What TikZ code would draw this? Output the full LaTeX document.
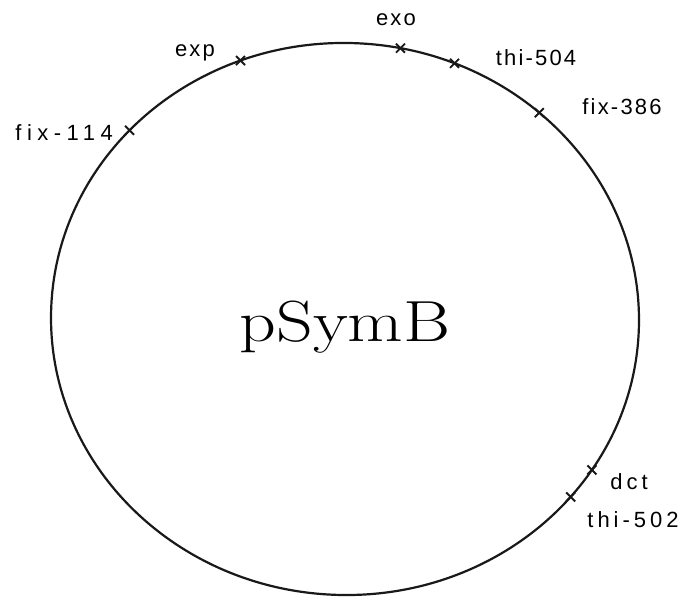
\documentclass[tikz,border=0pt]{standalone}
\usepackage{fontspec}
\newfontfamily\sitefont[LetterSpace=10]{Liberation Sans}
\newfontfamily\sitefontmid[LetterSpace=18]{Liberation Sans}
\newfontfamily\sitefontwide[LetterSpace=25]{Liberation Sans}
\begin{document}
\begin{tikzpicture}[x=1pt,y=1pt,
  replicon/.style={line width=2.2pt, black!90},
  sitetick/.style={line width=1.9pt, black!90},
  site/.style={font=\fontsize{22}{22}\selectfont\sitefont, inner sep=0pt, text=black},
  sitemid/.style={font=\fontsize{22}{22}\selectfont\sitefontmid, inner sep=0pt, text=black},
  sitewide/.style={font=\fontsize{22}{22}\selectfont\sitefontwide, inner sep=0pt, text=black},
  title/.style={font=\fontsize{58}{58}\selectfont, inner sep=0pt, xscale=1.24, transform shape}]
\useasboundingbox (0,0) rectangle (682,597);
\fill[white] (0,0) rectangle (682,597);

% the megaplasmid, drawn as a slightly tilted ellipse
\begin{scope}[shift={(345,278)}, rotate=-2]
  \draw[replicon] (0,0) ellipse [x radius=294, y radius=276];
  \coordinate (exo)    at (81:294 and 276);
  \coordinate (thi504) at (70:294 and 276);
  \coordinate (exp)    at (112.7:294 and 276);
  \coordinate (fix114) at (139:294 and 276);
  \coordinate (fix386) at (50.5:294 and 276);
  \coordinate (dct)    at (-31:294 and 276);
  \coordinate (thi502) at (-38:294 and 276);
\end{scope}

% loci marked by small crosses on the map
\foreach \p in {exo,thi504,exp,fix114,fix386,dct,thi502}
  \draw[sitetick] ([shift={(-4.5,-4.5)}]\p) -- ([shift={(4.5,4.5)}]\p)
                  ([shift={(-4.5,4.5)}]\p) -- ([shift={(4.5,-4.5)}]\p);

% locus names
\node[site] (lexp)    at (195,544) {exp};
\node[site] (lexo)    at (396,577) {exo};
\node[site] (lthi504) at (536,539) {thi-504};
\node[site] (lfix386) at (622,490) {fix-386};
\node[sitewide, anchor=east] (lfix114) at (113,464) {fix-114};
\node[sitemid] (ldct)    at (629,115) {dct};
\node[sitemid] (lthi502) at (633,77) {thi-502};

% plasmid name
\node[title, anchor=base] (name) at (345,255) {pSymB};
\end{tikzpicture}
\end{document}
